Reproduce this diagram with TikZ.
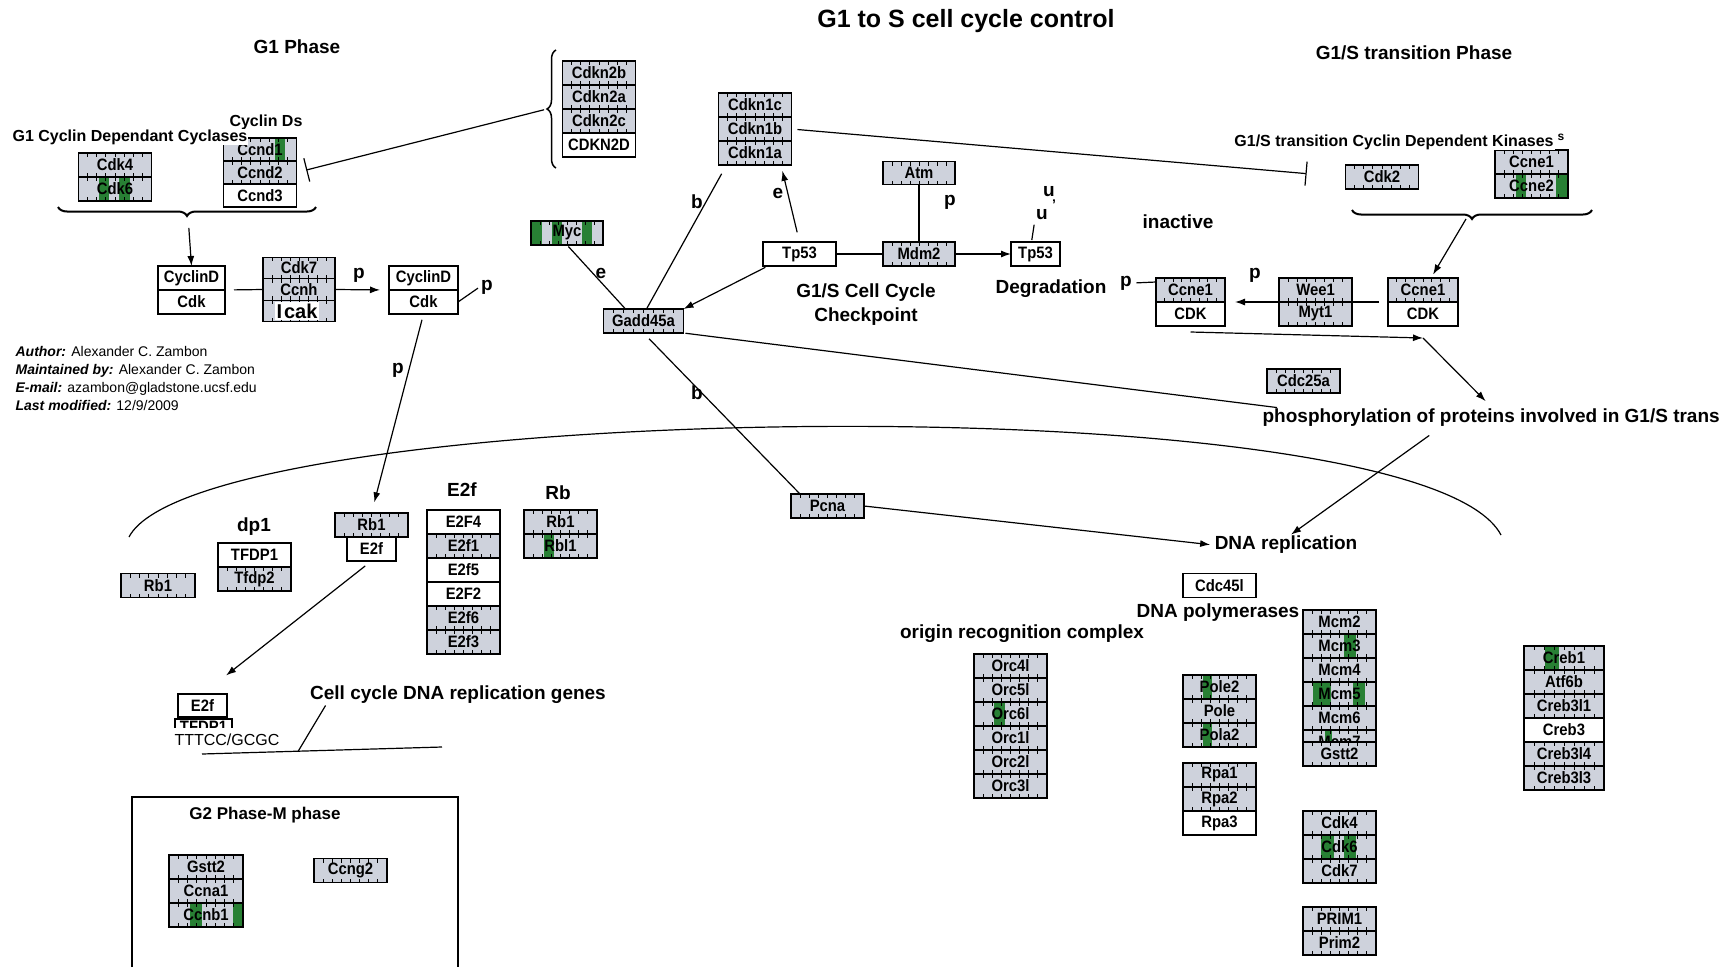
\documentclass[tikz,border=0pt]{standalone}
\usepackage{fontspec}
\setmainfont{Liberation Sans}
\newfontfamily\narrowsans[FakeStretch=0.9]{Liberation Sans}
\usetikzlibrary{positioning,calc,arrows.meta,decorations.pathreplacing}
\definecolor{boxgray}{RGB}{206,210,220}
\definecolor{hitgreen}{RGB}{40,128,52}
\newcommand\boxticks{%
  \foreach \f in {0.125,0.25,...,0.9}{%
    \draw[line width=0.8pt] ($(path picture bounding box.north west)!\f!(path picture bounding box.north east)$) -- ++(0pt,-4pt);
    \draw[line width=0.8pt] ($(path picture bounding box.south west)!\f!(path picture bounding box.south east)$) -- ++(0pt,4pt);}}
\tikzset{
  box/.style={draw, fill=white, minimum width=73pt, minimum height=24pt, inner sep=0pt, outer sep=0pt,
    font=\narrowsans\bfseries\fontsize{16.5pt}{18pt}\selectfont},
  gene/.style={box, fill=boxgray, path picture={\boxticks}},
  hit/.style={gene, path picture={\foreach \a/\b in {#1}{\fill[hitgreen] ($(path picture bounding box.south west)!\a!(path picture bounding box.south east)$) rectangle ($(path picture bounding box.north west)!\b!(path picture bounding box.north east)$);}\boxticks}},
  lbl/.style={font=\bfseries\fontsize{19pt}{24pt}\selectfont, inner sep=1pt},
  sublbl/.style={font=\bfseries\fontsize{16pt}{18pt}\selectfont, inner sep=1pt},
  arr/.style={-{Latex[length=10pt,width=7pt]}},
  inh/.style={-{Bar[width=24pt]}},
  grp/.style={decorate, decoration={brace, amplitude=9pt}, line width=2pt},
}
\begin{document}
\begin{tikzpicture}[x=1pt,y=-1pt,line width=1.2pt]
\fill[white] (0,0) rectangle (1730,967);
\useasboundingbox (0,0) rectangle (1730,967);
\node[gene] (cdk4) at (115,165) {Cdk4};
\node[hit={0.28/0.42,0.55/0.71}, below=0pt of cdk4] (cdk6) {Cdk6};
\node[hit={0.7/0.84}, minimum height=23pt] (ccnd1) at (260,149.5) {Ccnd1};
\node[gene, minimum height=23pt, below=0pt of ccnd1] (ccnd2) {Ccnd2};
\node[box, minimum height=23pt, below=0pt of ccnd2] (ccnd3) {Ccnd3};
\node[box, minimum width=67pt] (cycd1) at (191.5,278) {CyclinD};
\node[box, minimum width=67pt, below=0pt of cycd1] (cdk1) {Cdk};
\node[gene, minimum width=72pt, minimum height=21.5pt] (cdk7) at (299,268) {Cdk7};
\node[gene, minimum width=72pt, minimum height=21.5pt, below=0pt of cdk7] (ccnh) {Ccnh};
\node[gene, minimum width=72pt, minimum height=21.5pt, below=0pt of ccnh] (cak) {};
\node[fill=white, inner sep=2pt, font=\bfseries\fontsize{20pt}{22pt}\selectfont] (icak) at ([xshift=-2pt]cak.center) {I\kern2pt cak};
\node[box, minimum width=69pt] (cycd2) at (423.5,278) {CyclinD};
\node[box, minimum width=69pt, below=0pt of cycd2] (cdk2d) {Cdk};
\node[gene] (cdkn2b) at (599,73) {Cdkn2b};
\node[gene, below=0pt of cdkn2b] (cdkn2a) {Cdkn2a};
\node[gene, below=0pt of cdkn2a] (cdkn2c) {Cdkn2c};
\node[box, below=0pt of cdkn2c] (cdkn2d) {CDKN2D};
\node[gene] (cdkn1c) at (755,105) {Cdkn1c};
\node[gene, below=0pt of cdkn1c] (cdkn1b) {Cdkn1b};
\node[gene, below=0pt of cdkn1b] (cdkn1a) {Cdkn1a};
\node[hit={0/0.15,0.29/0.43,0.71/0.85}, minimum width=72pt] (myc) at (567,233) {Myc};
\node[gene, minimum width=80pt] (gadd) at (643.5,321) {Gadd45a};
\node[box] (tp53a) at (799.5,254) {Tp53};
\node[gene, minimum width=72pt, minimum height=23pt] (atm) at (919,173) {Atm};
\node[gene, minimum width=72pt] (mdm2) at (919,254) {Mdm2};
\node[box, minimum width=49pt] (tp53b) at (1035.5,254) {Tp53};
\node[gene] (cdk2) at (1382,177) {Cdk2};
\node[gene] (ccne1) at (1531.5,162) {Ccne1};
\node[hit={0.29/0.42,0.84/1}, below=0pt of ccne1] (ccne2) {Ccne2};
\node[gene, minimum width=70pt] (ccner) at (1423,290) {Ccne1};
\node[box, minimum width=70pt, below=0pt of ccner] (cdkr) {CDK};
\node[gene] (wee1) at (1315.5,290) {Wee1};
\node[gene, below=0pt of wee1] (myt1) {Myt1};
\node[gene, minimum width=69pt] (ccnel) at (1190.5,290) {Ccne1};
\node[box, minimum width=69pt, below=0pt of ccnel] (cdkl) {CDK};
\node[gene] (cdc25a) at (1303.5,381) {Cdc25a};
\node[gene, minimum width=74pt] (rb1l) at (158,585.5) {Rb1};
\node[box] (tfdp1) at (254.5,555) {TFDP1};
\node[gene, below=0pt of tfdp1] (tfdp2) {Tfdp2};
\node[gene] (rb1m) at (371.5,525) {Rb1};
\node[box, minimum width=49pt, below=0pt of rb1m] (e2fm) {E2f};
\node[box] (e2f4) at (463.5,522) {E2F4};
\node[gene, below=0pt of e2f4] (e2f1) {E2f1};
\node[box, below=0pt of e2f1] (e2f5) {E2f5};
\node[box, below=0pt of e2f5] (e2f2) {E2F2};
\node[gene, below=0pt of e2f2] (e2f6) {E2f6};
\node[gene, below=0pt of e2f6] (e2f3) {E2f3};
\node[gene] (rb1r) at (560.5,522) {Rb1};
\node[hit={0.27/0.41}, below=0pt of rb1r] (rbl1) {Rbl1};
\node[box, minimum width=49pt, minimum height=23pt] (e2fs) at (202.5,705.5) {E2f};
\begin{scope}
\clip (170,718) rectangle (240,727);
\node[box, minimum width=57pt, minimum height=16pt] (tfdp1c) at (203.5,727) {TFDP1};
\end{scope}
\node[gene, minimum width=74pt] (gstt2) at (206,867) {Gstt2};
\node[gene, minimum width=74pt, below=0pt of gstt2] (ccna1) {Ccna1};
\node[hit={0.28/0.44,0.86/1}, minimum width=74pt, below=0pt of ccna1] (ccnb1) {Ccnb1};
\node[gene] (ccng2) at (350.5,870.5) {Ccng2};
\node[gene] (pcna) at (827.5,506) {Pcna};
\node[box] (cdc45l) at (1219.5,585.5) {Cdc45l};
\node[gene] (orc4l) at (1010.5,666) {Orc4l};
\node[gene, below=0pt of orc4l] (orc5l) {Orc5l};
\node[hit={0.27/0.43}, below=0pt of orc5l] (orc6l) {Orc6l};
\node[gene, below=0pt of orc6l] (orc1l) {Orc1l};
\node[gene, below=0pt of orc1l] (orc2l) {Orc2l};
\node[gene, below=0pt of orc2l] (orc3l) {Orc3l};
\node[hit={0.27/0.40}] (pole2) at (1219.5,687) {Pole2};
\node[gene, below=0pt of pole2] (pole) {Pole};
\node[hit={0.27/0.40}, below=0pt of pole] (pola2) {Pola2};
\node[gene] (rpa1) at (1219.5,775) {Rpa1};
\node[gene, below=0pt of rpa1] (rpa2) {Rpa2};
\node[box, below=0pt of rpa2] (rpa3) {Rpa3};
\node[gene] (mcm2) at (1339.5,622) {Mcm2};
\node[hit={0.56/0.72}, below=0pt of mcm2] (mcm3) {Mcm3};
\node[gene, below=0pt of mcm3] (mcm4) {Mcm4};
\node[hit={0.13/0.39,0.68/0.85}, below=0pt of mcm4] (mcm5) {Mcm5};
\node[gene, below=0pt of mcm5] (mcm6) {Mcm6};
\node[hit={0.30/0.40}, below=0pt of mcm6] (mcm7) {Mcm7};
\node[gene] (gstt2b) at (1339.5,754) {Gstt2};
\node[gene] (cdk4b) at (1339.5,823) {Cdk4};
\node[hit={0.25/0.42,0.56/0.72}, below=0pt of cdk4b] (cdk6b) {Cdk6};
\node[gene, below=0pt of cdk6b] (cdk7b) {Cdk7};
\node[gene] (prim1) at (1339.5,919) {PRIM1};
\node[gene, below=0pt of prim1] (prim2) {Prim2};
\node[hit={0.26/0.44}, minimum width=80pt] (creb1) at (1564,658) {Creb1};
\node[gene, minimum width=80pt, below=0pt of creb1] (atf6b) {Atf6b};
\node[gene, minimum width=80pt, below=0pt of atf6b] (creb3l1) {Creb3l1};
\node[box, minimum width=80pt, below=0pt of creb3l1] (creb3) {Creb3};
\node[gene, minimum width=80pt, below=0pt of creb3] (creb3l4) {Creb3l4};
\node[gene, minimum width=80pt, below=0pt of creb3l4] (creb3l3) {Creb3l3};
\node[font=\bfseries\fontsize{25pt}{28pt}\selectfont] (title) at (966,21) {G1 to S cell cycle control};
\node[lbl] (g1ph) at (297,47) {G1 Phase};
\node[lbl] (g1sph) at (1414,53) {G1/S transition Phase};
\node[sublbl] (cycds) at (266,122) {Cyclin Ds};
\node[sublbl, fill=white] (g1cdc) at (130,137) {G1 Cyclin Dependant Cyclases};
\node[sublbl, fill=white] (g1scdk) at (1394,142) {G1/S transition Cyclin Dependent Kinases};
\node[font=\bfseries\fontsize{12pt}{12pt}\selectfont, inner sep=0pt] (sss) at (1561,137) {s};
\node[lbl] (pcd2) at (487,287) {p};
\node[lbl] (pcak) at (359,275) {p};
\node[lbl] (prb) at (398,370) {p};
\node[lbl] (bcdkn) at (697,202) {b};
\node[lbl] (bpcna) at (697,393) {b};
\node[lbl] (emyc) at (601,273) {e};
\node[lbl] (etp) at (778,193) {e};
\node[lbl] (patm) at (950,202) {p};
\node[lbl] (uhi) at (1049,192) {u};
\node[lbl] (ulo) at (1042,215) {u};
\node[font=\bfseries\fontsize{14pt}{14pt}\selectfont, inner sep=0pt] (utick) at (1054,205) {'};
\node[lbl, align=center] (chk) at (866,305) {G1/S Cell Cycle\\Checkpoint};
\node[lbl] (degr) at (1051,289) {Degradation};
\node[lbl] (inact) at (1178,222) {inactive};
\node[lbl] (pwee) at (1255,275) {p};
\node[lbl] (pccne) at (1126,283) {p};
\node[lbl, anchor=west] (phos) at (1261,418) {phosphorylation of proteins involved in G1/S trans};
\node[lbl] (dp1) at (254,527) {dp1};
\node[lbl] (e2flbl) at (462,490) {E2f};
\node[lbl] (rblbl) at (558,493) {Rb};
\node[font=\fontsize{16pt}{18pt}\selectfont, inner sep=0pt] (tttcc) at (227,740) {TTTCC/GCGC};
\node[lbl] (ccgenes) at (458,695) {Cell cycle DNA replication genes};
\node[lbl, font=\bfseries\fontsize{17pt}{20pt}\selectfont] (g2lbl) at (265,815) {G2 Phase-M phase};
\node[lbl] (dnarep) at (1286,545) {DNA replication};
\node[lbl] (polylbl) at (1218,613) {DNA polymerases};
\node[lbl] (orclbl) at (1022,634) {origin recognition complex};
\node[anchor=north west, align=left, inner sep=0pt, font=\fontsize{14pt}{18pt}\selectfont] (author) at (15,346) {\textbf{\textit{Author:}} Alexander C. Zambon\\ \textbf{\textit{Maintained by:}} Alexander C. Zambon\\ \textbf{\textit{E-mail:}} azambon@gladstone.ucsf.edu\\ \textbf{\textit{Last modified:}} 12/9/2009};
\coordinate (g1tip) at (188,216);
\coordinate (ink4tip) at (547,109);
\coordinate (g1stip) at (1466,219);
\coordinate (junc) at (1423,338);
\coordinate (dnal) at (202,754);
\coordinate (dnar) at (442,747);
\coordinate (dnahit) at (298,751.5);
\draw[grp, decoration={mirror}] (58,207) -- (316,207);
\draw[grp, line width=1.5pt] (556,168) -- (556,50);
\draw[grp, decoration={mirror}] (1352,210) -- (1592,210);
\draw (132,967) -- (132,797) -- (458,797) -- (458,967);
\draw (129,537) .. controls (200,400) and (1420,380) .. (1501,535);
\draw[arr, shorten <=12pt] (g1tip) -- (cycd1.north);
\draw[shorten <=9pt] (cdk1.north east) -- (ccnh.west);
\draw[arr, shorten >=9pt] (ccnh.east) -- (cycd2.south west);
\draw[shorten >=2pt] (cdk2d.east) -- (pcd2.west);
\draw[arr, shorten <=6pt, shorten >=11pt] (cdk2d.south) -- (rb1m.north);
\draw[inh, shorten <=3pt, shorten >=10pt] (ink4tip) -- (ccnd2.east);
\draw[inh, shorten <=6pt, shorten >=39pt] (cdkn1b.east) -- (cdk2.west);
\draw[shorten <=10pt] ([xshift=8pt]cdkn1a.south west) -- ([xshift=3pt]gadd.north);
\draw[shorten <=2pt] (myc.south) -- ([xshift=-18pt]gadd.north);
\draw[arr, shorten <=3pt] ([xshift=5pt]tp53a.south west) -- (gadd.north east);
\draw[arr, shorten <=10pt, shorten >=6pt] (tp53a.north) -- ([xshift=26pt]cdkn1a.south);
\draw (atm.south) -- (mdm2.north);
\draw (tp53a.east) -- (mdm2.west);
\draw[arr] (mdm2.east) -- (tp53b.west);
\draw[shorten <=2pt, shorten >=3pt] ([xshift=-4pt]tp53b.north) -- (ulo.south west);
\draw[shorten <=8pt] (gadd.south) -- ([xshift=9pt]pcna.north west);
\draw[shorten <=2pt] (gadd.south east) -- ([xshift=16pt]phos.north west);
\draw[arr, shorten >=3pt] (pcna.east) -- (dnarep.west);
\draw[arr, shorten >=4pt] (g1stip) -- ([xshift=8pt]ccner.north);
\draw[arr, shorten <=9pt, shorten >=10pt] (cdkr.north west) -- (cdkl.north east);
\draw[shorten <=3pt] (pccne.east) -- ([yshift=-4pt]ccnel.north west);
\draw[arr] ([yshift=-6pt]cdkl.south) -- (junc);
\draw[arr, shorten >=9pt] (junc) -- ([xshift=231pt]phos.north west);
\draw[arr, shorten <=12pt] ([xshift=178pt]phos.south west) -- ([xshift=5pt]dnarep.north);
\draw[arr, shorten <=8pt, shorten >=30pt] (e2fm.south) -- (e2fs.north);
\draw (dnal) -- (dnar);
\draw ([xshift=17pt]ccgenes.south west) -- (dnahit);
\end{tikzpicture}
\end{document}
